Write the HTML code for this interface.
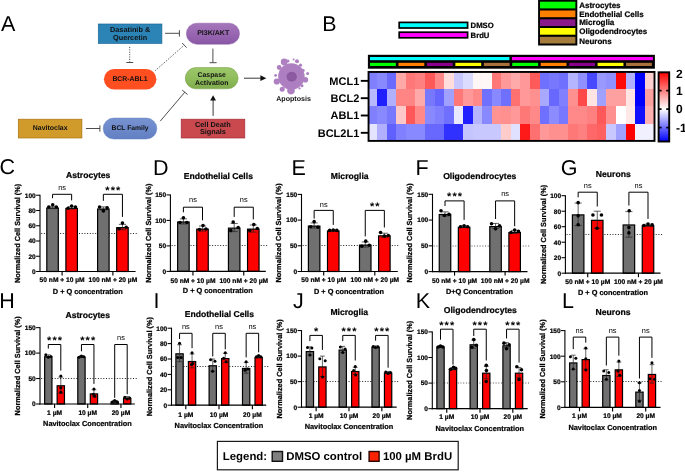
<!DOCTYPE html>
<html lang="en"><head><meta charset="utf-8"><title>Figure</title>
<style>html,body{margin:0;padding:0;background:#fff}svg{display:block}text{font-family:"Liberation Sans", Arial, sans-serif;text-rendering:geometricPrecision}text.b{stroke:#000;stroke-width:0.22px;paint-order:stroke}</style></head><body>
<svg width="685" height="472" viewBox="0 0 685 472">
<defs>
<linearGradient id="gP" x1="0" y1="0" x2="0" y2="1"><stop offset="0" stop-color="#a476ba"/><stop offset="0.5" stop-color="#9967b2"/><stop offset="1" stop-color="#8957a3"/></linearGradient>
<linearGradient id="gG" x1="0" y1="0" x2="0" y2="1"><stop offset="0" stop-color="#9cc76a"/><stop offset="0.5" stop-color="#90bd5c"/><stop offset="1" stop-color="#80ac4d"/></linearGradient>
<linearGradient id="gB" x1="0" y1="0" x2="0" y2="1"><stop offset="0" stop-color="#7893d0"/><stop offset="0.5" stop-color="#6c89ca"/><stop offset="1" stop-color="#6280c2"/></linearGradient>
<linearGradient id="gC" x1="0" y1="0" x2="0" y2="1"><stop offset="0" stop-color="#ff0000"/><stop offset="0.53" stop-color="#ffffff"/><stop offset="1" stop-color="#0000ff"/></linearGradient>
</defs>
<rect x="0" y="0" width="685" height="472" fill="#fff" />
<text x="1" y="31.4" font-size="21.5" font-weight="normal" text-anchor="start" fill="#000" >A</text>
<rect x="98.3" y="24" width="63.6" height="19.4" fill="#2b83b6" stroke="#1d6a98" stroke-width="0.7" />
<text x="130.1" y="32.3" font-size="7.3" font-weight="bold" text-anchor="middle" fill="#111" >Dasatinib &amp;</text>
<text x="130.1" y="39.5" font-size="7.3" font-weight="bold" text-anchor="middle" fill="#111" >Quercetin</text>
<line x1="165.1" y1="33.3" x2="179.4" y2="33.3" stroke="#3a3a3a" stroke-width="0.9" />
<line x1="179.4" y1="30.2" x2="179.4" y2="36.6" stroke="#3a3a3a" stroke-width="0.9" />
<line x1="129.7" y1="46.9" x2="129.7" y2="62.3" stroke="#3a3a3a" stroke-width="0.9" stroke-dasharray="1.1 1.3"/>
<line x1="126.3" y1="62.5" x2="133.2" y2="62.5" stroke="#3a3a3a" stroke-width="0.9" />
<rect x="103.9" y="68.9" width="52.5" height="20.7" fill="#ff4e20" rx="10.35"/>
<text x="130" y="81.1" font-size="6.9" font-weight="bold" text-anchor="middle" fill="#111" >BCR-ABL1</text>
<line x1="155.3" y1="70.6" x2="184" y2="45.4" stroke="#3a3a3a" stroke-width="0.9" stroke-dasharray="1.1 1.3"/>
<line x1="182.2" y1="43" x2="186.6" y2="47.6" stroke="#3a3a3a" stroke-width="0.9" />
<rect x="186.4" y="23.2" width="53.1" height="21" fill="url(#gP)" stroke="#8a5aa6" stroke-width="0.5" rx="10.5"/>
<text x="213.2" y="35" font-size="7.05" font-weight="bold" text-anchor="middle" fill="#111" >PI3K/AKT</text>
<line x1="212.9" y1="48.6" x2="212.9" y2="62.6" stroke="#3a3a3a" stroke-width="0.9" />
<line x1="209.5" y1="62.7" x2="216.6" y2="62.7" stroke="#3a3a3a" stroke-width="0.9" />
<rect x="185.3" y="67.6" width="52.8" height="21.2" fill="url(#gG)" stroke="#7aa34a" stroke-width="0.6" rx="10.6"/>
<text x="211.7" y="76.6" font-size="6.9" font-weight="bold" text-anchor="middle" fill="#111" >Caspase</text>
<text x="211.7" y="85" font-size="6.9" font-weight="bold" text-anchor="middle" fill="#111" >Activation</text>
<line x1="244" y1="78.2" x2="262" y2="78.2" stroke="#222" stroke-width="0.9" />
<polygon points="266.3,78.2 260.4,75.3 260.4,81.1" fill="#111"/>
<rect x="18.3" y="119.2" width="63.6" height="18.8" fill="#d19b2b" stroke="#a9720f" stroke-width="0.7" />
<text x="50.2" y="130" font-size="6.95" font-weight="bold" text-anchor="middle" fill="#111" >Navitoclax</text>
<line x1="85.9" y1="128.5" x2="99.9" y2="128.5" stroke="#3a3a3a" stroke-width="0.9" />
<line x1="99.9" y1="125.3" x2="99.9" y2="131.7" stroke="#3a3a3a" stroke-width="0.9" />
<rect x="103.2" y="118.1" width="53.6" height="20.9" fill="url(#gB)" stroke="#5f7cc0" stroke-width="0.5" rx="10.45"/>
<text x="130.1" y="130.2" font-size="6.75" font-weight="bold" text-anchor="middle" fill="#111" >BCL Family</text>
<line x1="160.2" y1="121.2" x2="184.8" y2="92.2" stroke="#3a3a3a" stroke-width="0.9" />
<line x1="182.2" y1="90.1" x2="187.6" y2="94.5" stroke="#3a3a3a" stroke-width="0.9" />
<rect x="181.2" y="119.2" width="63.6" height="18.8" fill="#c9494f" stroke="#a42d36" stroke-width="0.7" />
<text x="212.9" y="126.6" font-size="7.3" font-weight="bold" text-anchor="middle" fill="#111" >Cell Death</text>
<text x="212.9" y="133.9" font-size="7.3" font-weight="bold" text-anchor="middle" fill="#111" >Signals</text>
<line x1="213.1" y1="115.9" x2="213.1" y2="99" stroke="#222" stroke-width="0.9" />
<polygon points="213.1,95.2 210.2,100.6 216.0,100.6" fill="#111"/>
<g fill="#ae80c1">
<circle cx="291.4" cy="76.4" r="13.2"/>
<circle cx="284.2" cy="62" r="3.4"/>
<circle cx="279.2" cy="67.5" r="2.4"/>
<circle cx="297" cy="61.2" r="2.0"/>
<circle cx="293.6" cy="59.6" r="1.0"/>
<circle cx="302.9" cy="70.5" r="1.8"/>
<circle cx="307.6" cy="73.6" r="1.5"/>
<circle cx="275.6" cy="75.4" r="1.4"/>
<circle cx="276.8" cy="81.5" r="3.1"/>
<circle cx="282.2" cy="89.2" r="2.5"/>
<circle cx="291" cy="90.6" r="3.8"/>
<circle cx="305.4" cy="79.8" r="2.8"/>
<circle cx="302" cy="85.8" r="1.5"/>
<circle cx="299.5" cy="88.4" r="1.1"/>
<circle cx="300.5" cy="65.2" r="1.6"/>
<circle cx="288.0" cy="61.0" r="1.5"/>
</g>
<circle cx="291.4" cy="76.4" r="10.2" fill="none" stroke="#a576b9" stroke-width="0.4" opacity="0.7"/>
<circle cx="291.4" cy="76.4" r="8" fill="none" stroke="#a576b9" stroke-width="0.4" opacity="0.7"/>
<ellipse cx="291.7" cy="76.7" rx="5.2" ry="5.0" fill="#8b5aa0"/>
<text x="293.6" y="100.9" font-size="7.1" font-weight="bold" text-anchor="middle" fill="#111" >Apoptosis</text>
<text x="322.2" y="31.3" font-size="21.4" font-weight="normal" text-anchor="start" fill="#000" >B</text>
<rect x="399.2" y="22.4" width="68.4" height="5.6" fill="#00ffff" stroke="#000" stroke-width="1.7" />
<rect x="399.2" y="32.2" width="68.4" height="5.6" fill="#ff00ff" stroke="#000" stroke-width="1.7" />
<text class="b" x="470.6" y="27.7" font-size="7.7" font-weight="bold" text-anchor="start" fill="#000" >DMSO</text>
<text class="b" x="470.6" y="37.5" font-size="7.7" font-weight="bold" text-anchor="start" fill="#000" >BrdU</text>
<rect x="538.1" y="-1" width="39.2" height="46.5" fill="#000" />
<rect x="540" y="1.7" width="35.4" height="6.7" fill="#00ff00" />
<rect x="540" y="10.5" width="35.4" height="6.7" fill="#ff8000" />
<rect x="540" y="19.3" width="35.4" height="6.7" fill="#8a1a8a" />
<rect x="540" y="28" width="35.4" height="6.7" fill="#ffff00" />
<rect x="540" y="36.8" width="35.4" height="6.7" fill="#a67c3d" />
<text class="b" x="579.2" y="7.9" font-size="8" font-weight="bold" text-anchor="start" fill="#000" >Astrocytes</text>
<text class="b" x="579.2" y="16.7" font-size="8" font-weight="bold" text-anchor="start" fill="#000" >Endothelial Cells</text>
<text class="b" x="579.2" y="25.4" font-size="8" font-weight="bold" text-anchor="start" fill="#000" >Microglia</text>
<text class="b" x="579.2" y="34.2" font-size="8" font-weight="bold" text-anchor="start" fill="#000" >Oligodendrocytes</text>
<text class="b" x="579.2" y="44.1" font-size="8" font-weight="bold" text-anchor="start" fill="#000" >Neurons</text>
<rect x="367.9" y="54.8" width="287" height="13.9" fill="#000" />
<rect x="370" y="57" width="139.4" height="3.2" fill="#00ffff" />
<rect x="511.9" y="57" width="141" height="3.2" fill="#ff00ff" />
<rect x="370" y="62.8" width="25.85" height="3.2" fill="#00ff00" />
<rect x="398.45" y="62.8" width="25.85" height="3.2" fill="#ff8000" />
<rect x="426.9" y="62.8" width="25.85" height="3.2" fill="#8a008a" />
<rect x="455.35" y="62.8" width="25.85" height="3.2" fill="#ffff00" />
<rect x="483.8" y="62.8" width="25.85" height="3.2" fill="#a8703a" />
<rect x="512.25" y="62.8" width="25.85" height="3.2" fill="#00ff00" />
<rect x="540.69" y="62.8" width="25.85" height="3.2" fill="#ff8000" />
<rect x="569.14" y="62.8" width="25.85" height="3.2" fill="#8a008a" />
<rect x="597.59" y="62.8" width="25.85" height="3.2" fill="#ffff00" />
<rect x="626.04" y="62.8" width="25.85" height="3.2" fill="#a8703a" />
<g shape-rendering="crispEdges">
<rect x="367.65" y="71.55" width="9.85" height="17.62" fill="#8080ff" />
<rect x="377.2" y="71.55" width="9.85" height="17.62" fill="#8888ff" />
<rect x="386.75" y="71.55" width="9.85" height="17.62" fill="#6a6aff" />
<rect x="396.3" y="71.55" width="9.85" height="17.62" fill="#ffa8a8" />
<rect x="405.85" y="71.55" width="9.85" height="17.62" fill="#ff7878" />
<rect x="415.4" y="71.55" width="9.85" height="17.62" fill="#ff8080" />
<rect x="424.95" y="71.55" width="9.85" height="17.62" fill="#ff5858" />
<rect x="434.5" y="71.55" width="9.85" height="17.62" fill="#ff8888" />
<rect x="444.05" y="71.55" width="9.85" height="17.62" fill="#ffdddd" />
<rect x="453.6" y="71.55" width="9.85" height="17.62" fill="#c8c8ff" />
<rect x="463.15" y="71.55" width="9.85" height="17.62" fill="#dcdcff" />
<rect x="472.7" y="71.55" width="9.85" height="17.62" fill="#fff6f6" />
<rect x="482.25" y="71.55" width="9.85" height="17.62" fill="#fff8f6" />
<rect x="491.8" y="71.55" width="9.85" height="17.62" fill="#ff7777" />
<rect x="501.35" y="71.55" width="9.85" height="17.62" fill="#ff9999" />
<rect x="510.9" y="71.55" width="9.85" height="17.62" fill="#ffaaaa" />
<rect x="520.45" y="71.55" width="9.85" height="17.62" fill="#ff9999" />
<rect x="530" y="71.55" width="9.85" height="17.62" fill="#ff5a5a" />
<rect x="539.55" y="71.55" width="9.85" height="17.62" fill="#7070ff" />
<rect x="549.1" y="71.55" width="9.85" height="17.62" fill="#7878ff" />
<rect x="558.65" y="71.55" width="9.85" height="17.62" fill="#7070ff" />
<rect x="568.2" y="71.55" width="9.85" height="17.62" fill="#b4b4ff" />
<rect x="577.75" y="71.55" width="9.85" height="17.62" fill="#9090ff" />
<rect x="587.3" y="71.55" width="9.85" height="17.62" fill="#4848ff" />
<rect x="596.85" y="71.55" width="9.85" height="17.62" fill="#9898ff" />
<rect x="606.4" y="71.55" width="9.85" height="17.62" fill="#9090ff" />
<rect x="615.95" y="71.55" width="9.85" height="17.62" fill="#ff0808" />
<rect x="625.5" y="71.55" width="9.85" height="17.62" fill="#b0b0ff" />
<rect x="635.05" y="71.55" width="9.85" height="17.62" fill="#0000ff" />
<rect x="644.6" y="71.55" width="9.85" height="17.62" fill="#ffd0d0" />
<rect x="367.65" y="88.87" width="9.85" height="17.62" fill="#b8b8ff" />
<rect x="377.2" y="88.87" width="9.85" height="17.62" fill="#2020ff" />
<rect x="386.75" y="88.87" width="9.85" height="17.62" fill="#b0b0ff" />
<rect x="396.3" y="88.87" width="9.85" height="17.62" fill="#ff8484" />
<rect x="405.85" y="88.87" width="9.85" height="17.62" fill="#ff8484" />
<rect x="415.4" y="88.87" width="9.85" height="17.62" fill="#ffaaaa" />
<rect x="424.95" y="88.87" width="9.85" height="17.62" fill="#7878ff" />
<rect x="434.5" y="88.87" width="9.85" height="17.62" fill="#6666ff" />
<rect x="444.05" y="88.87" width="9.85" height="17.62" fill="#a0a0ff" />
<rect x="453.6" y="88.87" width="9.85" height="17.62" fill="#ff7777" />
<rect x="463.15" y="88.87" width="9.85" height="17.62" fill="#ff9999" />
<rect x="472.7" y="88.87" width="9.85" height="17.62" fill="#ff8888" />
<rect x="482.25" y="88.87" width="9.85" height="17.62" fill="#7070ff" />
<rect x="491.8" y="88.87" width="9.85" height="17.62" fill="#8888ff" />
<rect x="501.35" y="88.87" width="9.85" height="17.62" fill="#7070ff" />
<rect x="510.9" y="88.87" width="9.85" height="17.62" fill="#ff7070" />
<rect x="520.45" y="88.87" width="9.85" height="17.62" fill="#ff9999" />
<rect x="530" y="88.87" width="9.85" height="17.62" fill="#ff9090" />
<rect x="539.55" y="88.87" width="9.85" height="17.62" fill="#a8a8ff" />
<rect x="549.1" y="88.87" width="9.85" height="17.62" fill="#6868ff" />
<rect x="558.65" y="88.87" width="9.85" height="17.62" fill="#8080ff" />
<rect x="568.2" y="88.87" width="9.85" height="17.62" fill="#ff9090" />
<rect x="577.75" y="88.87" width="9.85" height="17.62" fill="#ff4848" />
<rect x="587.3" y="88.87" width="9.85" height="17.62" fill="#ffe4e4" />
<rect x="596.85" y="88.87" width="9.85" height="17.62" fill="#a0a0ff" />
<rect x="606.4" y="88.87" width="9.85" height="17.62" fill="#ffa0a0" />
<rect x="615.95" y="88.87" width="9.85" height="17.62" fill="#ffa0a0" />
<rect x="625.5" y="88.87" width="9.85" height="17.62" fill="#ffe4e4" />
<rect x="635.05" y="88.87" width="9.85" height="17.62" fill="#0000ff" />
<rect x="644.6" y="88.87" width="9.85" height="17.62" fill="#ffa0a0" />
<rect x="367.65" y="106.19" width="9.85" height="17.62" fill="#8080ff" />
<rect x="377.2" y="106.19" width="9.85" height="17.62" fill="#8888ff" />
<rect x="386.75" y="106.19" width="9.85" height="17.62" fill="#7878ff" />
<rect x="396.3" y="106.19" width="9.85" height="17.62" fill="#ffc8c8" />
<rect x="405.85" y="106.19" width="9.85" height="17.62" fill="#ff5858" />
<rect x="415.4" y="106.19" width="9.85" height="17.62" fill="#ff8888" />
<rect x="424.95" y="106.19" width="9.85" height="17.62" fill="#8888ff" />
<rect x="434.5" y="106.19" width="9.85" height="17.62" fill="#8080ff" />
<rect x="444.05" y="106.19" width="9.85" height="17.62" fill="#7070ff" />
<rect x="453.6" y="106.19" width="9.85" height="17.62" fill="#e8e8ff" />
<rect x="463.15" y="106.19" width="9.85" height="17.62" fill="#2020ff" />
<rect x="472.7" y="106.19" width="9.85" height="17.62" fill="#b4b4ff" />
<rect x="482.25" y="106.19" width="9.85" height="17.62" fill="#8888ff" />
<rect x="491.8" y="106.19" width="9.85" height="17.62" fill="#ff9292" />
<rect x="501.35" y="106.19" width="9.85" height="17.62" fill="#ff9090" />
<rect x="510.9" y="106.19" width="9.85" height="17.62" fill="#ff9898" />
<rect x="520.45" y="106.19" width="9.85" height="17.62" fill="#ff7878" />
<rect x="530" y="106.19" width="9.85" height="17.62" fill="#ff8888" />
<rect x="539.55" y="106.19" width="9.85" height="17.62" fill="#7070ff" />
<rect x="549.1" y="106.19" width="9.85" height="17.62" fill="#8c8cff" />
<rect x="558.65" y="106.19" width="9.85" height="17.62" fill="#7878ff" />
<rect x="568.2" y="106.19" width="9.85" height="17.62" fill="#ff8888" />
<rect x="577.75" y="106.19" width="9.85" height="17.62" fill="#ff8888" />
<rect x="587.3" y="106.19" width="9.85" height="17.62" fill="#ff8080" />
<rect x="596.85" y="106.19" width="9.85" height="17.62" fill="#ff5858" />
<rect x="606.4" y="106.19" width="9.85" height="17.62" fill="#ff9090" />
<rect x="615.95" y="106.19" width="9.85" height="17.62" fill="#ffffff" />
<rect x="625.5" y="106.19" width="9.85" height="17.62" fill="#ffe8e8" />
<rect x="635.05" y="106.19" width="9.85" height="17.62" fill="#1010ff" />
<rect x="644.6" y="106.19" width="9.85" height="17.62" fill="#ffb0b0" />
<rect x="367.65" y="123.51" width="9.85" height="17.62" fill="#e4e4ff" />
<rect x="377.2" y="123.51" width="9.85" height="17.62" fill="#b0b0ff" />
<rect x="386.75" y="123.51" width="9.85" height="17.62" fill="#6060ff" />
<rect x="396.3" y="123.51" width="9.85" height="17.62" fill="#8080ff" />
<rect x="405.85" y="123.51" width="9.85" height="17.62" fill="#8888ff" />
<rect x="415.4" y="123.51" width="9.85" height="17.62" fill="#8888ff" />
<rect x="424.95" y="123.51" width="9.85" height="17.62" fill="#6868ff" />
<rect x="434.5" y="123.51" width="9.85" height="17.62" fill="#6868ff" />
<rect x="444.05" y="123.51" width="9.85" height="17.62" fill="#3030ff" />
<rect x="453.6" y="123.51" width="9.85" height="17.62" fill="#3030ff" />
<rect x="463.15" y="123.51" width="9.85" height="17.62" fill="#c4c4ff" />
<rect x="472.7" y="123.51" width="9.85" height="17.62" fill="#c8c8ff" />
<rect x="482.25" y="123.51" width="9.85" height="17.62" fill="#c8c8ff" />
<rect x="491.8" y="123.51" width="9.85" height="17.62" fill="#c8c8ff" />
<rect x="501.35" y="123.51" width="9.85" height="17.62" fill="#ffcccc" />
<rect x="510.9" y="123.51" width="9.85" height="17.62" fill="#e0e0ff" />
<rect x="520.45" y="123.51" width="9.85" height="17.62" fill="#ff1a1a" />
<rect x="530" y="123.51" width="9.85" height="17.62" fill="#ff7070" />
<rect x="539.55" y="123.51" width="9.85" height="17.62" fill="#ff9898" />
<rect x="549.1" y="123.51" width="9.85" height="17.62" fill="#ff9090" />
<rect x="558.65" y="123.51" width="9.85" height="17.62" fill="#ff9090" />
<rect x="568.2" y="123.51" width="9.85" height="17.62" fill="#ff7878" />
<rect x="577.75" y="123.51" width="9.85" height="17.62" fill="#ff8080" />
<rect x="587.3" y="123.51" width="9.85" height="17.62" fill="#ff6868" />
<rect x="596.85" y="123.51" width="9.85" height="17.62" fill="#ff6060" />
<rect x="606.4" y="123.51" width="9.85" height="17.62" fill="#c8c8ff" />
<rect x="615.95" y="123.51" width="9.85" height="17.62" fill="#a0a0ff" />
<rect x="625.5" y="123.51" width="9.85" height="17.62" fill="#ff0000" />
<rect x="635.05" y="123.51" width="9.85" height="17.62" fill="#f0f0ff" />
<rect x="644.6" y="123.51" width="9.85" height="17.62" fill="#f0f0ff" />
</g>
<rect x="368.55" y="71.95" width="285.95" height="68.95" fill="none" stroke="#000" stroke-width="1.9" />
<line x1="360.8" y1="80.86" x2="368" y2="80.86" stroke="#000" stroke-width="1.9" />
<text x="359.3" y="84.81" font-size="11" font-weight="bold" text-anchor="end" fill="#000" >MCL1</text>
<line x1="360.8" y1="98.18" x2="368" y2="98.18" stroke="#000" stroke-width="1.9" />
<text x="359.3" y="102.13" font-size="11" font-weight="bold" text-anchor="end" fill="#000" >BCL2</text>
<line x1="360.8" y1="115.5" x2="368" y2="115.5" stroke="#000" stroke-width="1.9" />
<text x="359.3" y="119.45" font-size="11" font-weight="bold" text-anchor="end" fill="#000" >ABL1</text>
<line x1="360.8" y1="132.82" x2="368" y2="132.82" stroke="#000" stroke-width="1.9" />
<text x="359.3" y="136.77" font-size="11" font-weight="bold" text-anchor="end" fill="#000" >BCL2L1</text>
<rect x="658.6" y="72.3" width="10.6" height="69.2" fill="url(#gC)" stroke="#000" stroke-width="1.9"/>
<text x="676" y="77.6" font-size="12" font-weight="bold" text-anchor="start" fill="#000" >2</text>
<line x1="658.6" y1="90.6" x2="661.6" y2="90.6" stroke="#000" stroke-width="1.7" />
<line x1="666.2" y1="90.6" x2="669.2" y2="90.6" stroke="#000" stroke-width="1.7" />
<text x="676" y="94.5" font-size="12" font-weight="bold" text-anchor="start" fill="#000" >1</text>
<line x1="658.6" y1="109.1" x2="661.6" y2="109.1" stroke="#000" stroke-width="1.7" />
<line x1="666.2" y1="109.1" x2="669.2" y2="109.1" stroke="#000" stroke-width="1.7" />
<text x="676" y="113" font-size="12" font-weight="bold" text-anchor="start" fill="#000" >0</text>
<line x1="658.6" y1="127.6" x2="661.6" y2="127.6" stroke="#000" stroke-width="1.7" />
<line x1="666.2" y1="127.6" x2="669.2" y2="127.6" stroke="#000" stroke-width="1.7" />
<text x="676" y="131.5" font-size="12" font-weight="bold" text-anchor="start" fill="#000" >-1</text>
<text x="-0.6" y="174.2" font-size="21.5" font-weight="normal" text-anchor="start" fill="#000" >C</text>
<text class="b" x="88.15" y="178.3" font-size="8.6" font-weight="bold" text-anchor="middle" fill="#000" >Astrocytes</text>
<line x1="41.2" y1="233.5" x2="137.6" y2="233.5" stroke="#222" stroke-width="1" stroke-dasharray="1 1.7"/>
<rect x="46.8" y="208.05" width="11.5" height="63.45" fill="#707070" stroke="#000" stroke-width="1.2" />
<line x1="52.55" y1="206.31" x2="52.55" y2="208.59" stroke="#222" stroke-width="0.7" />
<line x1="48.99" y1="206.31" x2="56.11" y2="206.31" stroke="#222" stroke-width="0.7" />
<line x1="48.99" y1="208.59" x2="56.11" y2="208.59" stroke="#222" stroke-width="0.7" />
<circle cx="48.75" cy="207.07" r="1.8" fill="#000"/>
<circle cx="52.75" cy="204.78" r="1.8" fill="#000"/>
<circle cx="56.35" cy="207.07" r="1.8" fill="#000"/>
<rect x="65.9" y="208.43" width="11.5" height="63.07" fill="#ff0000" stroke="#000" stroke-width="1.2" />
<line x1="71.65" y1="206.69" x2="71.65" y2="208.97" stroke="#222" stroke-width="0.7" />
<line x1="68.09" y1="206.69" x2="75.21" y2="206.69" stroke="#222" stroke-width="0.7" />
<line x1="68.09" y1="208.97" x2="75.21" y2="208.97" stroke="#222" stroke-width="0.7" />
<circle cx="68.05" cy="208.21" r="1.8" fill="#000"/>
<circle cx="71.65" cy="205.93" r="1.8" fill="#000"/>
<circle cx="75.45" cy="207.07" r="1.8" fill="#000"/>
<rect x="97.6" y="209.04" width="11.5" height="62.46" fill="#707070" stroke="#000" stroke-width="1.2" />
<line x1="103.35" y1="206.92" x2="103.35" y2="209.97" stroke="#222" stroke-width="0.7" />
<line x1="99.79" y1="206.92" x2="106.91" y2="206.92" stroke="#222" stroke-width="0.7" />
<line x1="99.79" y1="209.97" x2="106.91" y2="209.97" stroke="#222" stroke-width="0.7" />
<circle cx="99.55" cy="207.07" r="1.8" fill="#000"/>
<circle cx="103.35" cy="210.88" r="1.8" fill="#000"/>
<circle cx="107.15" cy="207.83" r="1.8" fill="#000"/>
<rect x="116.7" y="227.65" width="11.5" height="43.85" fill="#ff0000" stroke="#000" stroke-width="1.2" />
<line x1="122.45" y1="224.38" x2="122.45" y2="229.72" stroke="#222" stroke-width="0.7" />
<line x1="118.89" y1="224.38" x2="126.01" y2="224.38" stroke="#222" stroke-width="0.7" />
<line x1="118.89" y1="229.72" x2="126.01" y2="229.72" stroke="#222" stroke-width="0.7" />
<circle cx="119.05" cy="228.8" r="1.8" fill="#000"/>
<circle cx="122.45" cy="223.08" r="1.8" fill="#000"/>
<circle cx="126.25" cy="227.28" r="1.8" fill="#000"/>
<line x1="40" y1="194.75" x2="40" y2="272.05" stroke="#000" stroke-width="1.1" />
<line x1="39.45" y1="271.5" x2="135.6" y2="271.5" stroke="#000" stroke-width="1.2" />
<line x1="36.1" y1="271.5" x2="40" y2="271.5" stroke="#000" stroke-width="1.05" />
<text class="b" x="35.7" y="273.85" font-size="6.55" font-weight="bold" text-anchor="end" fill="#000" >0</text>
<line x1="36.1" y1="256.25" x2="40" y2="256.25" stroke="#000" stroke-width="1.05" />
<text class="b" x="35.7" y="258.6" font-size="6.55" font-weight="bold" text-anchor="end" fill="#000" >20</text>
<line x1="36.1" y1="241" x2="40" y2="241" stroke="#000" stroke-width="1.05" />
<text class="b" x="35.7" y="243.35" font-size="6.55" font-weight="bold" text-anchor="end" fill="#000" >40</text>
<line x1="36.1" y1="225.75" x2="40" y2="225.75" stroke="#000" stroke-width="1.05" />
<text class="b" x="35.7" y="228.1" font-size="6.55" font-weight="bold" text-anchor="end" fill="#000" >60</text>
<line x1="36.1" y1="210.5" x2="40" y2="210.5" stroke="#000" stroke-width="1.05" />
<text class="b" x="35.7" y="212.85" font-size="6.55" font-weight="bold" text-anchor="end" fill="#000" >80</text>
<line x1="36.1" y1="195.25" x2="40" y2="195.25" stroke="#000" stroke-width="1.05" />
<text class="b" x="35.7" y="197.6" font-size="6.55" font-weight="bold" text-anchor="end" fill="#000" >100</text>
<line x1="62.1" y1="271.5" x2="62.1" y2="275.5" stroke="#000" stroke-width="1.15" />
<line x1="112.9" y1="271.5" x2="112.9" y2="275.5" stroke="#000" stroke-width="1.15" />
<text class="b" x="62.1" y="282.4" font-size="6.65" font-weight="bold" text-anchor="middle" fill="#000" >50 nM + 10 µM</text>
<text class="b" x="112.9" y="282.4" font-size="6.65" font-weight="bold" text-anchor="middle" fill="#000" >100 nM + 20 µM</text>
<text class="b" x="87.8" y="294" font-size="7.35" font-weight="bold" text-anchor="middle" fill="#000" >D + Q concentration</text>
<text class="b" transform="translate(20.1 233.38) rotate(-90)" font-size="7.35" font-weight="bold" text-anchor="middle">Normalized Cell Survival (%)</text>
<polyline points="52.55,198.2 52.55,194.3 71.65,194.3 71.65,200.4" fill="none" stroke="#000" stroke-width="1.0"/>
<text x="62.1" y="189.7" font-size="7.4" font-weight="normal" text-anchor="middle" fill="#000" >ns</text>
<polyline points="103.35,200.8 103.35,194.3 122.45,194.3 122.45,216.9" fill="none" stroke="#000" stroke-width="1.0"/>
<text x="113.45" y="194.1" font-size="11" font-weight="bold" text-anchor="middle" fill="#000" letter-spacing="1.1">***</text>
<text x="153" y="174.5" font-size="21.5" font-weight="normal" text-anchor="start" fill="#000" >D</text>
<text class="b" x="218.3" y="179.1" font-size="8.6" font-weight="bold" text-anchor="middle" fill="#000" >Endothelial Cells</text>
<line x1="171.6" y1="245.5" x2="267.8" y2="245.5" stroke="#222" stroke-width="1" stroke-dasharray="1 1.7"/>
<rect x="177.65" y="222.02" width="11.5" height="49.38" fill="#707070" stroke="#000" stroke-width="1.2" />
<line x1="183.4" y1="218.87" x2="183.4" y2="223.97" stroke="#222" stroke-width="0.7" />
<line x1="179.84" y1="218.87" x2="186.96" y2="218.87" stroke="#222" stroke-width="0.7" />
<line x1="179.84" y1="223.97" x2="186.96" y2="223.97" stroke="#222" stroke-width="0.7" />
<circle cx="179.9" cy="222.44" r="1.8" fill="#000"/>
<circle cx="183.4" cy="217.85" r="1.8" fill="#000"/>
<circle cx="186.9" cy="222.44" r="1.8" fill="#000"/>
<rect x="196.75" y="229.16" width="11.5" height="42.24" fill="#ff0000" stroke="#000" stroke-width="1.2" />
<line x1="202.5" y1="226.01" x2="202.5" y2="231.11" stroke="#222" stroke-width="0.7" />
<line x1="198.94" y1="226.01" x2="206.06" y2="226.01" stroke="#222" stroke-width="0.7" />
<line x1="198.94" y1="231.11" x2="206.06" y2="231.11" stroke="#222" stroke-width="0.7" />
<circle cx="199.5" cy="229.58" r="1.8" fill="#000"/>
<circle cx="203" cy="225.5" r="1.8" fill="#000"/>
<circle cx="206" cy="229.07" r="1.8" fill="#000"/>
<rect x="228.45" y="228.14" width="11.5" height="43.26" fill="#707070" stroke="#000" stroke-width="1.2" />
<line x1="234.2" y1="223.46" x2="234.2" y2="231.62" stroke="#222" stroke-width="0.7" />
<line x1="230.64" y1="223.46" x2="237.76" y2="223.46" stroke="#222" stroke-width="0.7" />
<line x1="230.64" y1="231.62" x2="237.76" y2="231.62" stroke="#222" stroke-width="0.7" />
<circle cx="230.7" cy="230.6" r="1.8" fill="#000"/>
<circle cx="233.2" cy="221.93" r="1.8" fill="#000"/>
<circle cx="238.2" cy="227.54" r="1.8" fill="#000"/>
<rect x="247.55" y="229.16" width="11.5" height="42.24" fill="#ff0000" stroke="#000" stroke-width="1.2" />
<line x1="253.3" y1="224.99" x2="253.3" y2="232.13" stroke="#222" stroke-width="0.7" />
<line x1="249.74" y1="224.99" x2="256.86" y2="224.99" stroke="#222" stroke-width="0.7" />
<line x1="249.74" y1="232.13" x2="256.86" y2="232.13" stroke="#222" stroke-width="0.7" />
<circle cx="249.8" cy="230.6" r="1.8" fill="#000"/>
<circle cx="253.8" cy="224.48" r="1.8" fill="#000"/>
<circle cx="257.3" cy="228.56" r="1.8" fill="#000"/>
<line x1="170.4" y1="194.4" x2="170.4" y2="271.95" stroke="#000" stroke-width="1.1" />
<line x1="169.85" y1="271.4" x2="265.8" y2="271.4" stroke="#000" stroke-width="1.2" />
<line x1="166.5" y1="271.4" x2="170.4" y2="271.4" stroke="#000" stroke-width="1.05" />
<text class="b" x="166.1" y="273.75" font-size="6.55" font-weight="bold" text-anchor="end" fill="#000" >0</text>
<line x1="166.5" y1="245.9" x2="170.4" y2="245.9" stroke="#000" stroke-width="1.05" />
<text class="b" x="166.1" y="248.25" font-size="6.55" font-weight="bold" text-anchor="end" fill="#000" >50</text>
<line x1="166.5" y1="220.4" x2="170.4" y2="220.4" stroke="#000" stroke-width="1.05" />
<text class="b" x="166.1" y="222.75" font-size="6.55" font-weight="bold" text-anchor="end" fill="#000" >100</text>
<line x1="166.5" y1="194.9" x2="170.4" y2="194.9" stroke="#000" stroke-width="1.05" />
<text class="b" x="166.1" y="197.25" font-size="6.55" font-weight="bold" text-anchor="end" fill="#000" >150</text>
<line x1="192.95" y1="271.4" x2="192.95" y2="275.4" stroke="#000" stroke-width="1.15" />
<line x1="243.75" y1="271.4" x2="243.75" y2="275.4" stroke="#000" stroke-width="1.15" />
<text class="b" x="192.95" y="282.5" font-size="6.65" font-weight="bold" text-anchor="middle" fill="#000" >50 nM + 10 µM</text>
<text class="b" x="243.75" y="282.5" font-size="6.65" font-weight="bold" text-anchor="middle" fill="#000" >100 nM + 20 µM</text>
<text class="b" x="217.8" y="293.3" font-size="7.35" font-weight="bold" text-anchor="middle" fill="#000" >D + Q concentration</text>
<text class="b" transform="translate(150.5 233.15) rotate(-90)" font-size="7.35" font-weight="bold" text-anchor="middle">Normalized Cell Survival (%)</text>
<polyline points="183.4,212.3 183.4,207.2 202.5,207.2 202.5,220.3" fill="none" stroke="#000" stroke-width="1.0"/>
<text x="192.95" y="202.4" font-size="7.4" font-weight="normal" text-anchor="middle" fill="#000" >ns</text>
<polyline points="234.2,216.9 234.2,207.2 253.3,207.2 253.3,219.4" fill="none" stroke="#000" stroke-width="1.0"/>
<text x="243.75" y="202.4" font-size="7.4" font-weight="normal" text-anchor="middle" fill="#000" >ns</text>
<text x="291.5" y="174.5" font-size="21.5" font-weight="normal" text-anchor="start" fill="#000" >E</text>
<text class="b" x="349.7" y="178.7" font-size="8.6" font-weight="bold" text-anchor="middle" fill="#000" >Microglia</text>
<line x1="302.7" y1="245.5" x2="399.8" y2="245.5" stroke="#222" stroke-width="1" stroke-dasharray="1 1.7"/>
<rect x="308.4" y="226.1" width="11.5" height="45.4" fill="#707070" stroke="#000" stroke-width="1.2" />
<line x1="314.15" y1="222.93" x2="314.15" y2="228.07" stroke="#222" stroke-width="0.7" />
<line x1="310.59" y1="222.93" x2="317.71" y2="222.93" stroke="#222" stroke-width="0.7" />
<line x1="310.59" y1="228.07" x2="317.71" y2="228.07" stroke="#222" stroke-width="0.7" />
<circle cx="310.65" cy="226.78" r="1.8" fill="#000"/>
<circle cx="314.15" cy="221.64" r="1.8" fill="#000"/>
<circle cx="317.95" cy="227.3" r="1.8" fill="#000"/>
<rect x="327.5" y="230.98" width="11.5" height="40.52" fill="#ff0000" stroke="#000" stroke-width="1.2" />
<line x1="333.25" y1="229.87" x2="333.25" y2="230.89" stroke="#222" stroke-width="0.7" />
<line x1="329.69" y1="229.87" x2="336.81" y2="229.87" stroke="#222" stroke-width="0.7" />
<line x1="329.69" y1="230.89" x2="336.81" y2="230.89" stroke="#222" stroke-width="0.7" />
<circle cx="329.65" cy="230.38" r="1.8" fill="#000"/>
<circle cx="333.25" cy="230.12" r="1.8" fill="#000"/>
<circle cx="336.85" cy="230.38" r="1.8" fill="#000"/>
<rect x="359.5" y="245.11" width="11.5" height="26.39" fill="#707070" stroke="#000" stroke-width="1.2" />
<line x1="365.25" y1="241.94" x2="365.25" y2="247.09" stroke="#222" stroke-width="0.7" />
<line x1="361.69" y1="241.94" x2="368.81" y2="241.94" stroke="#222" stroke-width="0.7" />
<line x1="361.69" y1="247.09" x2="368.81" y2="247.09" stroke="#222" stroke-width="0.7" />
<circle cx="361.75" cy="246.31" r="1.8" fill="#000"/>
<circle cx="365.75" cy="241.17" r="1.8" fill="#000"/>
<circle cx="369.25" cy="245.29" r="1.8" fill="#000"/>
<rect x="378.6" y="235.86" width="11.5" height="35.64" fill="#ff0000" stroke="#000" stroke-width="1.2" />
<line x1="384.35" y1="233.21" x2="384.35" y2="237.32" stroke="#222" stroke-width="0.7" />
<line x1="380.79" y1="233.21" x2="387.91" y2="233.21" stroke="#222" stroke-width="0.7" />
<line x1="380.79" y1="237.32" x2="387.91" y2="237.32" stroke="#222" stroke-width="0.7" />
<circle cx="380.55" cy="232.44" r="1.8" fill="#000"/>
<circle cx="384.35" cy="236.03" r="1.8" fill="#000"/>
<circle cx="388.35" cy="235.52" r="1.8" fill="#000"/>
<line x1="301.5" y1="193.9" x2="301.5" y2="272.05" stroke="#000" stroke-width="1.1" />
<line x1="300.95" y1="271.5" x2="397.8" y2="271.5" stroke="#000" stroke-width="1.2" />
<line x1="297.6" y1="271.5" x2="301.5" y2="271.5" stroke="#000" stroke-width="1.05" />
<text class="b" x="297.2" y="273.85" font-size="6.55" font-weight="bold" text-anchor="end" fill="#000" >0</text>
<line x1="297.6" y1="245.8" x2="301.5" y2="245.8" stroke="#000" stroke-width="1.05" />
<text class="b" x="297.2" y="248.15" font-size="6.55" font-weight="bold" text-anchor="end" fill="#000" >50</text>
<line x1="297.6" y1="220.1" x2="301.5" y2="220.1" stroke="#000" stroke-width="1.05" />
<text class="b" x="297.2" y="222.45" font-size="6.55" font-weight="bold" text-anchor="end" fill="#000" >100</text>
<line x1="297.6" y1="194.4" x2="301.5" y2="194.4" stroke="#000" stroke-width="1.05" />
<text class="b" x="297.2" y="196.75" font-size="6.55" font-weight="bold" text-anchor="end" fill="#000" >150</text>
<line x1="323.7" y1="271.5" x2="323.7" y2="275.5" stroke="#000" stroke-width="1.15" />
<line x1="374.8" y1="271.5" x2="374.8" y2="275.5" stroke="#000" stroke-width="1.15" />
<text class="b" x="323.7" y="282.2" font-size="6.65" font-weight="bold" text-anchor="middle" fill="#000" >50 nM + 10 µM</text>
<text class="b" x="374.8" y="282.2" font-size="6.65" font-weight="bold" text-anchor="middle" fill="#000" >100 nM + 20 µM</text>
<text class="b" x="349" y="293.8" font-size="7.35" font-weight="bold" text-anchor="middle" fill="#000" >D + Q concentration</text>
<text class="b" transform="translate(281.4 232.95) rotate(-90)" font-size="7.35" font-weight="bold" text-anchor="middle">Normalized Cell Survival (%)</text>
<polyline points="314.15,218.6 314.15,210.4 333.25,210.4 333.25,224.9" fill="none" stroke="#000" stroke-width="1.0"/>
<text x="323.7" y="206.6" font-size="7.4" font-weight="normal" text-anchor="middle" fill="#000" >ns</text>
<polyline points="365.25,236.4 365.25,210.4 384.35,210.4 384.35,227.5" fill="none" stroke="#000" stroke-width="1.0"/>
<text x="375.35" y="210.4" font-size="11" font-weight="bold" text-anchor="middle" fill="#000" letter-spacing="1.1">**</text>
<text x="415.6" y="174.8" font-size="21.5" font-weight="normal" text-anchor="start" fill="#000" >F</text>
<text class="b" x="479.7" y="179.2" font-size="8.6" font-weight="bold" text-anchor="middle" fill="#000" >Oligodendrocytes</text>
<line x1="433.7" y1="246" x2="529.5" y2="246" stroke="#555" stroke-width="1" stroke-dasharray="1 1.7"/>
<rect x="439.25" y="214.49" width="11.5" height="57.11" fill="#707070" stroke="#000" stroke-width="1.2" />
<line x1="445" y1="211.83" x2="445" y2="215.95" stroke="#222" stroke-width="0.7" />
<line x1="441.44" y1="211.83" x2="448.56" y2="211.83" stroke="#222" stroke-width="0.7" />
<line x1="441.44" y1="215.95" x2="448.56" y2="215.95" stroke="#222" stroke-width="0.7" />
<circle cx="441" cy="210.79" r="1.8" fill="#000"/>
<circle cx="444.5" cy="215.43" r="1.8" fill="#000"/>
<circle cx="449" cy="214.4" r="1.8" fill="#000"/>
<rect x="458.35" y="227.37" width="11.5" height="44.23" fill="#ff0000" stroke="#000" stroke-width="1.2" />
<line x1="464.1" y1="226" x2="464.1" y2="227.54" stroke="#222" stroke-width="0.7" />
<line x1="460.54" y1="226" x2="467.66" y2="226" stroke="#222" stroke-width="0.7" />
<line x1="460.54" y1="227.54" x2="467.66" y2="227.54" stroke="#222" stroke-width="0.7" />
<circle cx="460.5" cy="226.77" r="1.8" fill="#000"/>
<circle cx="464.1" cy="225.74" r="1.8" fill="#000"/>
<circle cx="467.7" cy="226.77" r="1.8" fill="#000"/>
<rect x="489.8" y="226.6" width="11.5" height="45" fill="#707070" stroke="#000" stroke-width="1.2" />
<line x1="495.55" y1="223.42" x2="495.55" y2="228.57" stroke="#222" stroke-width="0.7" />
<line x1="491.99" y1="223.42" x2="499.11" y2="223.42" stroke="#222" stroke-width="0.7" />
<line x1="491.99" y1="228.57" x2="499.11" y2="228.57" stroke="#222" stroke-width="0.7" />
<circle cx="491.55" cy="223.68" r="1.8" fill="#000"/>
<circle cx="495.55" cy="228.83" r="1.8" fill="#000"/>
<circle cx="499.55" cy="225.74" r="1.8" fill="#000"/>
<rect x="508.9" y="232.52" width="11.5" height="39.08" fill="#ff0000" stroke="#000" stroke-width="1.2" />
<line x1="514.65" y1="230.38" x2="514.65" y2="233.47" stroke="#222" stroke-width="0.7" />
<line x1="511.09" y1="230.38" x2="518.21" y2="230.38" stroke="#222" stroke-width="0.7" />
<line x1="511.09" y1="233.47" x2="518.21" y2="233.47" stroke="#222" stroke-width="0.7" />
<circle cx="511.05" cy="232.44" r="1.8" fill="#000"/>
<circle cx="514.65" cy="230.12" r="1.8" fill="#000"/>
<circle cx="518.45" cy="231.41" r="1.8" fill="#000"/>
<line x1="432.5" y1="193.81" x2="432.5" y2="272.15" stroke="#000" stroke-width="1.1" />
<line x1="431.95" y1="271.6" x2="527.5" y2="271.6" stroke="#000" stroke-width="1.2" />
<line x1="428.6" y1="271.6" x2="432.5" y2="271.6" stroke="#000" stroke-width="1.05" />
<text class="b" x="428.2" y="273.95" font-size="6.55" font-weight="bold" text-anchor="end" fill="#000" >0</text>
<line x1="428.6" y1="245.84" x2="432.5" y2="245.84" stroke="#000" stroke-width="1.05" />
<text class="b" x="428.2" y="248.19" font-size="6.55" font-weight="bold" text-anchor="end" fill="#000" >50</text>
<line x1="428.6" y1="220.07" x2="432.5" y2="220.07" stroke="#000" stroke-width="1.05" />
<text class="b" x="428.2" y="222.42" font-size="6.55" font-weight="bold" text-anchor="end" fill="#000" >100</text>
<line x1="428.6" y1="194.31" x2="432.5" y2="194.31" stroke="#000" stroke-width="1.05" />
<text class="b" x="428.2" y="196.66" font-size="6.55" font-weight="bold" text-anchor="end" fill="#000" >150</text>
<line x1="454.55" y1="271.6" x2="454.55" y2="275.6" stroke="#000" stroke-width="1.15" />
<line x1="505.1" y1="271.6" x2="505.1" y2="275.6" stroke="#000" stroke-width="1.15" />
<text class="b" x="454.55" y="282.5" font-size="6.65" font-weight="bold" text-anchor="middle" fill="#000" >50 nM + 10 µM</text>
<text class="b" x="505.1" y="282.5" font-size="6.65" font-weight="bold" text-anchor="middle" fill="#000" >100 nM + 20 µM</text>
<text class="b" x="479.5" y="293.6" font-size="7.35" font-weight="bold" text-anchor="middle" fill="#000" >D+Q Concentration</text>
<text class="b" transform="translate(412.1 232.95) rotate(-90)" font-size="7.35" font-weight="bold" text-anchor="middle">Normalized Cell Survival (%)</text>
<polyline points="445,206 445,200.9 464.1,200.9 464.1,219.9" fill="none" stroke="#000" stroke-width="1.0"/>
<text x="455.1" y="200" font-size="11" font-weight="bold" text-anchor="middle" fill="#000" letter-spacing="1.1">***</text>
<polyline points="495.55,219 495.55,200.9 514.65,200.9 514.65,226.2" fill="none" stroke="#000" stroke-width="1.0"/>
<text x="505.1" y="195.7" font-size="7.4" font-weight="normal" text-anchor="middle" fill="#000" >ns</text>
<text x="560.7" y="175.3" font-size="21.5" font-weight="normal" text-anchor="start" fill="#000" >G</text>
<text class="b" x="613.3" y="177" font-size="8.6" font-weight="bold" text-anchor="middle" fill="#000" >Neurons</text>
<line x1="566.6" y1="234.5" x2="662.5" y2="234.5" stroke="#222" stroke-width="1" stroke-dasharray="1 1.7"/>
<rect x="572.4" y="214.9" width="11.5" height="58.3" fill="#707070" stroke="#000" stroke-width="1.2" />
<line x1="578.15" y1="203.06" x2="578.15" y2="225.54" stroke="#222" stroke-width="0.7" />
<line x1="574.59" y1="203.06" x2="581.71" y2="203.06" stroke="#222" stroke-width="0.7" />
<line x1="574.59" y1="225.54" x2="581.71" y2="225.54" stroke="#222" stroke-width="0.7" />
<circle cx="578.15" cy="202.67" r="1.8" fill="#000"/>
<circle cx="578.15" cy="215.85" r="1.8" fill="#000"/>
<circle cx="578.15" cy="224.76" r="1.8" fill="#000"/>
<rect x="591.5" y="220.32" width="11.5" height="52.87" fill="#ff0000" stroke="#000" stroke-width="1.2" />
<line x1="597.25" y1="211.2" x2="597.25" y2="228.25" stroke="#222" stroke-width="0.7" />
<line x1="593.69" y1="211.2" x2="600.81" y2="211.2" stroke="#222" stroke-width="0.7" />
<line x1="593.69" y1="228.25" x2="600.81" y2="228.25" stroke="#222" stroke-width="0.7" />
<circle cx="592.95" cy="215.07" r="1.8" fill="#000"/>
<circle cx="601.45" cy="215.07" r="1.8" fill="#000"/>
<circle cx="597.05" cy="228.25" r="1.8" fill="#000"/>
<rect x="623.15" y="224.97" width="11.5" height="48.22" fill="#707070" stroke="#000" stroke-width="1.2" />
<line x1="628.9" y1="211.59" x2="628.9" y2="237.16" stroke="#222" stroke-width="0.7" />
<line x1="625.34" y1="211.59" x2="632.46" y2="211.59" stroke="#222" stroke-width="0.7" />
<line x1="625.34" y1="237.16" x2="632.46" y2="237.16" stroke="#222" stroke-width="0.7" />
<circle cx="629.2" cy="210.81" r="1.8" fill="#000"/>
<circle cx="628.9" cy="227.47" r="1.8" fill="#000"/>
<circle cx="628.9" cy="232.9" r="1.8" fill="#000"/>
<rect x="642.25" y="225.75" width="11.5" height="47.45" fill="#ff0000" stroke="#000" stroke-width="1.2" />
<line x1="648" y1="224.22" x2="648" y2="226.08" stroke="#222" stroke-width="0.7" />
<line x1="644.44" y1="224.22" x2="651.56" y2="224.22" stroke="#222" stroke-width="0.7" />
<line x1="644.44" y1="226.08" x2="651.56" y2="226.08" stroke="#222" stroke-width="0.7" />
<circle cx="643.8" cy="225.54" r="1.8" fill="#000"/>
<circle cx="648" cy="223.99" r="1.8" fill="#000"/>
<circle cx="652.2" cy="224.92" r="1.8" fill="#000"/>
<line x1="565.4" y1="195.2" x2="565.4" y2="273.75" stroke="#000" stroke-width="1.1" />
<line x1="564.85" y1="273.2" x2="660.5" y2="273.2" stroke="#000" stroke-width="1.2" />
<line x1="561.5" y1="273.2" x2="565.4" y2="273.2" stroke="#000" stroke-width="1.05" />
<text class="b" x="561.1" y="275.55" font-size="6.55" font-weight="bold" text-anchor="end" fill="#000" >0</text>
<line x1="561.5" y1="257.7" x2="565.4" y2="257.7" stroke="#000" stroke-width="1.05" />
<text class="b" x="561.1" y="260.05" font-size="6.55" font-weight="bold" text-anchor="end" fill="#000" >20</text>
<line x1="561.5" y1="242.2" x2="565.4" y2="242.2" stroke="#000" stroke-width="1.05" />
<text class="b" x="561.1" y="244.55" font-size="6.55" font-weight="bold" text-anchor="end" fill="#000" >40</text>
<line x1="561.5" y1="226.7" x2="565.4" y2="226.7" stroke="#000" stroke-width="1.05" />
<text class="b" x="561.1" y="229.05" font-size="6.55" font-weight="bold" text-anchor="end" fill="#000" >60</text>
<line x1="561.5" y1="211.2" x2="565.4" y2="211.2" stroke="#000" stroke-width="1.05" />
<text class="b" x="561.1" y="213.55" font-size="6.55" font-weight="bold" text-anchor="end" fill="#000" >80</text>
<line x1="561.5" y1="195.7" x2="565.4" y2="195.7" stroke="#000" stroke-width="1.05" />
<text class="b" x="561.1" y="198.05" font-size="6.55" font-weight="bold" text-anchor="end" fill="#000" >100</text>
<line x1="587.7" y1="273.2" x2="587.7" y2="277.2" stroke="#000" stroke-width="1.15" />
<line x1="638.45" y1="273.2" x2="638.45" y2="277.2" stroke="#000" stroke-width="1.15" />
<text class="b" x="587.7" y="283.8" font-size="6.65" font-weight="bold" text-anchor="middle" fill="#000" >50 nM + 10 µM</text>
<text class="b" x="638.45" y="283.8" font-size="6.65" font-weight="bold" text-anchor="middle" fill="#000" >100 nM + 20 µM</text>
<text class="b" x="613" y="295" font-size="7.35" font-weight="bold" text-anchor="middle" fill="#000" >D + Q concentration</text>
<text class="b" transform="translate(545.9 234.45) rotate(-90)" font-size="7.35" font-weight="bold" text-anchor="middle">Normalized Cell Survival (%)</text>
<polyline points="578.15,197.3 578.15,192.2 597.25,192.2 597.25,206.5" fill="none" stroke="#000" stroke-width="1.0"/>
<text x="587.7" y="187.9" font-size="7.4" font-weight="normal" text-anchor="middle" fill="#000" >ns</text>
<polyline points="628.9,205.5 628.9,192.2 648,192.2 648,218.9" fill="none" stroke="#000" stroke-width="1.0"/>
<text x="638.45" y="187.9" font-size="7.4" font-weight="normal" text-anchor="middle" fill="#000" >ns</text>
<text x="-0.7" y="307.8" font-size="21.5" font-weight="normal" text-anchor="start" fill="#000" >H</text>
<text class="b" x="87.7" y="318.1" font-size="8.6" font-weight="bold" text-anchor="middle" fill="#000" >Astrocytes</text>
<line x1="41.2" y1="378.5" x2="136.9" y2="378.5" stroke="#222" stroke-width="1" stroke-dasharray="1 1.7"/>
<rect x="44.65" y="356.75" width="7.3" height="47.25" fill="#707070" stroke="#000" stroke-width="1.2" />
<line x1="48.3" y1="354.88" x2="48.3" y2="357.43" stroke="#222" stroke-width="0.7" />
<line x1="45.92" y1="354.88" x2="50.68" y2="354.88" stroke="#222" stroke-width="0.7" />
<line x1="45.92" y1="357.43" x2="50.68" y2="357.43" stroke="#222" stroke-width="0.7" />
<circle cx="45.8" cy="354.63" r="1.5" fill="#000"/>
<circle cx="48.3" cy="357.17" r="1.5" fill="#000"/>
<circle cx="50.8" cy="356.41" r="1.5" fill="#000"/>
<rect x="57.15" y="385.77" width="7.3" height="18.23" fill="#ff0000" stroke="#000" stroke-width="1.2" />
<line x1="60.8" y1="377.02" x2="60.8" y2="393.31" stroke="#222" stroke-width="0.7" />
<line x1="58.42" y1="377.02" x2="63.18" y2="377.02" stroke="#222" stroke-width="0.7" />
<line x1="58.42" y1="393.31" x2="63.18" y2="393.31" stroke="#222" stroke-width="0.7" />
<circle cx="60.8" cy="376" r="1.5" fill="#000"/>
<circle cx="60.8" cy="387.71" r="1.5" fill="#000"/>
<circle cx="60.8" cy="392.29" r="1.5" fill="#000"/>
<rect x="77.8" y="357.26" width="7.3" height="46.74" fill="#707070" stroke="#000" stroke-width="1.2" />
<line x1="81.45" y1="355.9" x2="81.45" y2="357.43" stroke="#222" stroke-width="0.7" />
<line x1="79.07" y1="355.9" x2="83.83" y2="355.9" stroke="#222" stroke-width="0.7" />
<line x1="79.07" y1="357.43" x2="83.83" y2="357.43" stroke="#222" stroke-width="0.7" />
<circle cx="79.05" cy="357.17" r="1.5" fill="#000"/>
<circle cx="81.45" cy="355.9" r="1.5" fill="#000"/>
<circle cx="83.85" cy="356.66" r="1.5" fill="#000"/>
<rect x="90.3" y="393.91" width="7.3" height="10.09" fill="#ff0000" stroke="#000" stroke-width="1.2" />
<line x1="93.95" y1="389.75" x2="93.95" y2="396.87" stroke="#222" stroke-width="0.7" />
<line x1="91.57" y1="389.75" x2="96.33" y2="389.75" stroke="#222" stroke-width="0.7" />
<line x1="91.57" y1="396.87" x2="96.33" y2="396.87" stroke="#222" stroke-width="0.7" />
<circle cx="93.95" cy="388.98" r="1.5" fill="#000"/>
<circle cx="93.45" cy="394.33" r="1.5" fill="#000"/>
<circle cx="94.75" cy="396.37" r="1.5" fill="#000"/>
<rect x="111.05" y="402.06" width="7.3" height="1.95" fill="#707070" stroke="#000" stroke-width="1.2" />
<line x1="114.7" y1="400.44" x2="114.7" y2="402.47" stroke="#222" stroke-width="0.7" />
<line x1="112.32" y1="400.44" x2="117.08" y2="400.44" stroke="#222" stroke-width="0.7" />
<line x1="112.32" y1="402.47" x2="117.08" y2="402.47" stroke="#222" stroke-width="0.7" />
<circle cx="112.3" cy="401.96" r="1.5" fill="#000"/>
<circle cx="114.7" cy="400.44" r="1.5" fill="#000"/>
<circle cx="117.1" cy="401.71" r="1.5" fill="#000"/>
<rect x="123.55" y="398.49" width="7.3" height="5.51" fill="#ff0000" stroke="#000" stroke-width="1.2" />
<line x1="127.2" y1="396.62" x2="127.2" y2="399.16" stroke="#222" stroke-width="0.7" />
<line x1="124.82" y1="396.62" x2="129.58" y2="396.62" stroke="#222" stroke-width="0.7" />
<line x1="124.82" y1="399.16" x2="129.58" y2="399.16" stroke="#222" stroke-width="0.7" />
<circle cx="124.8" cy="397.13" r="1.5" fill="#000"/>
<circle cx="127.2" cy="398.91" r="1.5" fill="#000"/>
<circle cx="129.6" cy="397.89" r="1.5" fill="#000"/>
<line x1="40" y1="327.15" x2="40" y2="404.55" stroke="#000" stroke-width="1.1" />
<line x1="39.45" y1="404" x2="134.9" y2="404" stroke="#000" stroke-width="1.2" />
<line x1="36.1" y1="404" x2="40" y2="404" stroke="#000" stroke-width="1.05" />
<text class="b" x="35.7" y="406.35" font-size="6.55" font-weight="bold" text-anchor="end" fill="#000" >0</text>
<line x1="36.1" y1="378.55" x2="40" y2="378.55" stroke="#000" stroke-width="1.05" />
<text class="b" x="35.7" y="380.9" font-size="6.55" font-weight="bold" text-anchor="end" fill="#000" >50</text>
<line x1="36.1" y1="353.1" x2="40" y2="353.1" stroke="#000" stroke-width="1.05" />
<text class="b" x="35.7" y="355.45" font-size="6.55" font-weight="bold" text-anchor="end" fill="#000" >100</text>
<line x1="36.1" y1="327.65" x2="40" y2="327.65" stroke="#000" stroke-width="1.05" />
<text class="b" x="35.7" y="330" font-size="6.55" font-weight="bold" text-anchor="end" fill="#000" >150</text>
<line x1="54.55" y1="404" x2="54.55" y2="408" stroke="#000" stroke-width="1.15" />
<line x1="87.7" y1="404" x2="87.7" y2="408" stroke="#000" stroke-width="1.15" />
<line x1="120.95" y1="404" x2="120.95" y2="408" stroke="#000" stroke-width="1.15" />
<text class="b" x="54.55" y="414.9" font-size="6.65" font-weight="bold" text-anchor="middle" fill="#000" >1 µM</text>
<text class="b" x="87.7" y="414.9" font-size="6.65" font-weight="bold" text-anchor="middle" fill="#000" >10 µM</text>
<text class="b" x="120.95" y="414.9" font-size="6.65" font-weight="bold" text-anchor="middle" fill="#000" >20 µM</text>
<text class="b" x="87.4" y="426" font-size="7.35" font-weight="bold" text-anchor="middle" fill="#000" >Navitoclax Concentration</text>
<text class="b" transform="translate(19.9 365.82) rotate(-90)" font-size="7.35" font-weight="bold" text-anchor="middle">Normalized Cell Survival (%)</text>
<polyline points="48.3,348.6 48.3,344.5 60.8,344.5 60.8,370.6" fill="none" stroke="#000" stroke-width="1.0"/>
<text x="55.1" y="343.8" font-size="11" font-weight="bold" text-anchor="middle" fill="#000" letter-spacing="1.1">***</text>
<polyline points="81.45,351.3 81.45,344.5 93.95,344.5 93.95,383.9" fill="none" stroke="#000" stroke-width="1.0"/>
<text x="88.25" y="343.8" font-size="11" font-weight="bold" text-anchor="middle" fill="#000" letter-spacing="1.1">***</text>
<polyline points="114.7,397.8 114.7,344.5 127.2,344.5 127.2,394.2" fill="none" stroke="#000" stroke-width="1.0"/>
<text x="120.95" y="339.9" font-size="7.4" font-weight="normal" text-anchor="middle" fill="#000" >ns</text>
<text x="153.5" y="307.8" font-size="21.5" font-weight="normal" text-anchor="start" fill="#000" >I</text>
<text class="b" x="219.4" y="316.5" font-size="8.6" font-weight="bold" text-anchor="middle" fill="#000" >Endothelial Cells</text>
<line x1="172.7" y1="366.5" x2="268.2" y2="366.5" stroke="#222" stroke-width="1" stroke-dasharray="1 1.7"/>
<rect x="175.9" y="353.82" width="7.3" height="51.38" fill="#707070" stroke="#000" stroke-width="1.2" />
<line x1="179.55" y1="344.75" x2="179.55" y2="361.69" stroke="#222" stroke-width="0.7" />
<line x1="177.17" y1="344.75" x2="181.93" y2="344.75" stroke="#222" stroke-width="0.7" />
<line x1="177.17" y1="361.69" x2="181.93" y2="361.69" stroke="#222" stroke-width="0.7" />
<circle cx="179.55" cy="343.21" r="1.5" fill="#000"/>
<circle cx="177.75" cy="357.46" r="1.5" fill="#000"/>
<circle cx="181.15" cy="357.46" r="1.5" fill="#000"/>
<rect x="188.4" y="361.53" width="7.3" height="43.67" fill="#ff0000" stroke="#000" stroke-width="1.2" />
<line x1="192.05" y1="354" x2="192.05" y2="367.86" stroke="#222" stroke-width="0.7" />
<line x1="189.67" y1="354" x2="194.43" y2="354" stroke="#222" stroke-width="0.7" />
<line x1="189.67" y1="367.86" x2="194.43" y2="367.86" stroke="#222" stroke-width="0.7" />
<circle cx="192.05" cy="352.84" r="1.5" fill="#000"/>
<circle cx="191.45" cy="364.39" r="1.5" fill="#000"/>
<circle cx="192.85" cy="363.62" r="1.5" fill="#000"/>
<rect x="209.1" y="365.76" width="7.3" height="39.44" fill="#707070" stroke="#000" stroke-width="1.2" />
<line x1="212.75" y1="359" x2="212.75" y2="371.32" stroke="#222" stroke-width="0.7" />
<line x1="210.37" y1="359" x2="215.13" y2="359" stroke="#222" stroke-width="0.7" />
<line x1="210.37" y1="371.32" x2="215.13" y2="371.32" stroke="#222" stroke-width="0.7" />
<circle cx="210.55" cy="359.77" r="1.5" fill="#000"/>
<circle cx="214.95" cy="361.31" r="1.5" fill="#000"/>
<circle cx="212.55" cy="371.32" r="1.5" fill="#000"/>
<rect x="221.6" y="358.6" width="7.3" height="46.6" fill="#ff0000" stroke="#000" stroke-width="1.2" />
<line x1="225.25" y1="353.38" x2="225.25" y2="362.62" stroke="#222" stroke-width="0.7" />
<line x1="222.87" y1="353.38" x2="227.63" y2="353.38" stroke="#222" stroke-width="0.7" />
<line x1="222.87" y1="362.62" x2="227.63" y2="362.62" stroke="#222" stroke-width="0.7" />
<circle cx="225.25" cy="352.84" r="1.5" fill="#000"/>
<circle cx="223.65" cy="358.23" r="1.5" fill="#000"/>
<circle cx="226.25" cy="361.69" r="1.5" fill="#000"/>
<rect x="242.5" y="368.46" width="7.3" height="36.74" fill="#707070" stroke="#000" stroke-width="1.2" />
<line x1="246.15" y1="362.46" x2="246.15" y2="373.25" stroke="#222" stroke-width="0.7" />
<line x1="243.77" y1="362.46" x2="248.53" y2="362.46" stroke="#222" stroke-width="0.7" />
<line x1="243.77" y1="373.25" x2="248.53" y2="373.25" stroke="#222" stroke-width="0.7" />
<circle cx="246.15" cy="361.69" r="1.5" fill="#000"/>
<circle cx="244.95" cy="370.16" r="1.5" fill="#000"/>
<circle cx="247.75" cy="369.01" r="1.5" fill="#000"/>
<rect x="255" y="357.52" width="7.3" height="47.68" fill="#ff0000" stroke="#000" stroke-width="1.2" />
<line x1="258.65" y1="356" x2="258.65" y2="357.84" stroke="#222" stroke-width="0.7" />
<line x1="256.27" y1="356" x2="261.03" y2="356" stroke="#222" stroke-width="0.7" />
<line x1="256.27" y1="357.84" x2="261.03" y2="357.84" stroke="#222" stroke-width="0.7" />
<circle cx="256.45" cy="356.69" r="1.5" fill="#000"/>
<circle cx="258.65" cy="355.53" r="1.5" fill="#000"/>
<circle cx="260.85" cy="356.69" r="1.5" fill="#000"/>
<line x1="171.5" y1="327.7" x2="171.5" y2="405.75" stroke="#000" stroke-width="1.1" />
<line x1="170.95" y1="405.2" x2="266.2" y2="405.2" stroke="#000" stroke-width="1.2" />
<line x1="167.6" y1="405.2" x2="171.5" y2="405.2" stroke="#000" stroke-width="1.05" />
<text class="b" x="167.2" y="407.55" font-size="6.55" font-weight="bold" text-anchor="end" fill="#000" >0</text>
<line x1="167.6" y1="389.8" x2="171.5" y2="389.8" stroke="#000" stroke-width="1.05" />
<text class="b" x="167.2" y="392.15" font-size="6.55" font-weight="bold" text-anchor="end" fill="#000" >20</text>
<line x1="167.6" y1="374.4" x2="171.5" y2="374.4" stroke="#000" stroke-width="1.05" />
<text class="b" x="167.2" y="376.75" font-size="6.55" font-weight="bold" text-anchor="end" fill="#000" >40</text>
<line x1="167.6" y1="359" x2="171.5" y2="359" stroke="#000" stroke-width="1.05" />
<text class="b" x="167.2" y="361.35" font-size="6.55" font-weight="bold" text-anchor="end" fill="#000" >60</text>
<line x1="167.6" y1="343.6" x2="171.5" y2="343.6" stroke="#000" stroke-width="1.05" />
<text class="b" x="167.2" y="345.95" font-size="6.55" font-weight="bold" text-anchor="end" fill="#000" >80</text>
<line x1="167.6" y1="328.2" x2="171.5" y2="328.2" stroke="#000" stroke-width="1.05" />
<text class="b" x="167.2" y="330.55" font-size="6.55" font-weight="bold" text-anchor="end" fill="#000" >100</text>
<line x1="185.8" y1="405.2" x2="185.8" y2="409.2" stroke="#000" stroke-width="1.15" />
<line x1="219" y1="405.2" x2="219" y2="409.2" stroke="#000" stroke-width="1.15" />
<line x1="252.4" y1="405.2" x2="252.4" y2="409.2" stroke="#000" stroke-width="1.15" />
<text class="b" x="185.8" y="416.7" font-size="6.65" font-weight="bold" text-anchor="middle" fill="#000" >1 µM</text>
<text class="b" x="219" y="416.7" font-size="6.65" font-weight="bold" text-anchor="middle" fill="#000" >10 µM</text>
<text class="b" x="252.4" y="416.7" font-size="6.65" font-weight="bold" text-anchor="middle" fill="#000" >20 µM</text>
<text class="b" x="218.9" y="427.8" font-size="7.35" font-weight="bold" text-anchor="middle" fill="#000" >Navitoclax Concentration</text>
<text class="b" transform="translate(151.5 366.7) rotate(-90)" font-size="7.35" font-weight="bold" text-anchor="middle">Normalized Cell Survival (%)</text>
<polyline points="179.55,339 179.55,333.3 192.05,333.3 192.05,348.2" fill="none" stroke="#000" stroke-width="1.0"/>
<text x="185.8" y="329.4" font-size="7.4" font-weight="normal" text-anchor="middle" fill="#000" >ns</text>
<polyline points="212.75,356.4 212.75,333.3 225.25,333.3 225.25,349.3" fill="none" stroke="#000" stroke-width="1.0"/>
<text x="219" y="329.4" font-size="7.4" font-weight="normal" text-anchor="middle" fill="#000" >ns</text>
<polyline points="246.15,357.4 246.15,333.3 258.65,333.3 258.65,352.3" fill="none" stroke="#000" stroke-width="1.0"/>
<text x="252.4" y="329.4" font-size="7.4" font-weight="normal" text-anchor="middle" fill="#000" >ns</text>
<text x="293" y="308.1" font-size="21.5" font-weight="normal" text-anchor="start" fill="#000" >J</text>
<text class="b" x="349.3" y="314.7" font-size="8.6" font-weight="bold" text-anchor="middle" fill="#000" >Microglia</text>
<line x1="302.7" y1="381.5" x2="398.7" y2="381.5" stroke="#222" stroke-width="1" stroke-dasharray="1 1.7"/>
<rect x="306.25" y="351.59" width="7.3" height="55.61" fill="#707070" stroke="#000" stroke-width="1.2" />
<line x1="309.9" y1="346.9" x2="309.9" y2="355.08" stroke="#222" stroke-width="0.7" />
<line x1="307.52" y1="346.9" x2="312.28" y2="346.9" stroke="#222" stroke-width="0.7" />
<line x1="307.52" y1="355.08" x2="312.28" y2="355.08" stroke="#222" stroke-width="0.7" />
<circle cx="307.5" cy="347.41" r="1.5" fill="#000"/>
<circle cx="311.9" cy="347.92" r="1.5" fill="#000"/>
<circle cx="309.9" cy="355.08" r="1.5" fill="#000"/>
<rect x="318.75" y="366.92" width="7.3" height="40.28" fill="#ff0000" stroke="#000" stroke-width="1.2" />
<line x1="322.4" y1="356.1" x2="322.4" y2="376.54" stroke="#222" stroke-width="0.7" />
<line x1="320.02" y1="356.1" x2="324.78" y2="356.1" stroke="#222" stroke-width="0.7" />
<line x1="320.02" y1="376.54" x2="324.78" y2="376.54" stroke="#222" stroke-width="0.7" />
<circle cx="319.8" cy="358.65" r="1.5" fill="#000"/>
<circle cx="325.2" cy="360.7" r="1.5" fill="#000"/>
<circle cx="322.6" cy="377.05" r="1.5" fill="#000"/>
<rect x="339.1" y="350.06" width="7.3" height="57.14" fill="#707070" stroke="#000" stroke-width="1.2" />
<line x1="342.75" y1="346.39" x2="342.75" y2="352.52" stroke="#222" stroke-width="0.7" />
<line x1="340.37" y1="346.39" x2="345.13" y2="346.39" stroke="#222" stroke-width="0.7" />
<line x1="340.37" y1="352.52" x2="345.13" y2="352.52" stroke="#222" stroke-width="0.7" />
<circle cx="340.35" cy="346.9" r="1.5" fill="#000"/>
<circle cx="345.15" cy="348.95" r="1.5" fill="#000"/>
<circle cx="342.75" cy="352.52" r="1.5" fill="#000"/>
<rect x="351.6" y="371.52" width="7.3" height="35.68" fill="#ff0000" stroke="#000" stroke-width="1.2" />
<line x1="355.25" y1="367.34" x2="355.25" y2="374.5" stroke="#222" stroke-width="0.7" />
<line x1="352.87" y1="367.34" x2="357.63" y2="367.34" stroke="#222" stroke-width="0.7" />
<line x1="352.87" y1="374.5" x2="357.63" y2="374.5" stroke="#222" stroke-width="0.7" />
<circle cx="355.25" cy="366.58" r="1.5" fill="#000"/>
<circle cx="353.65" cy="370.41" r="1.5" fill="#000"/>
<circle cx="355.65" cy="375.01" r="1.5" fill="#000"/>
<rect x="371.95" y="347.5" width="7.3" height="59.7" fill="#707070" stroke="#000" stroke-width="1.2" />
<line x1="375.6" y1="345.88" x2="375.6" y2="347.92" stroke="#222" stroke-width="0.7" />
<line x1="373.22" y1="345.88" x2="377.98" y2="345.88" stroke="#222" stroke-width="0.7" />
<line x1="373.22" y1="347.92" x2="377.98" y2="347.92" stroke="#222" stroke-width="0.7" />
<circle cx="373.2" cy="346.39" r="1.5" fill="#000"/>
<circle cx="375.6" cy="347.41" r="1.5" fill="#000"/>
<circle cx="378" cy="346.65" r="1.5" fill="#000"/>
<rect x="384.45" y="373.05" width="7.3" height="34.15" fill="#ff0000" stroke="#000" stroke-width="1.2" />
<line x1="388.1" y1="371.43" x2="388.1" y2="373.47" stroke="#222" stroke-width="0.7" />
<line x1="385.72" y1="371.43" x2="390.48" y2="371.43" stroke="#222" stroke-width="0.7" />
<line x1="385.72" y1="373.47" x2="390.48" y2="373.47" stroke="#222" stroke-width="0.7" />
<circle cx="385.7" cy="371.94" r="1.5" fill="#000"/>
<circle cx="388.1" cy="373.47" r="1.5" fill="#000"/>
<circle cx="390.5" cy="372.45" r="1.5" fill="#000"/>
<line x1="301.5" y1="330.05" x2="301.5" y2="407.75" stroke="#000" stroke-width="1.1" />
<line x1="300.95" y1="407.2" x2="396.7" y2="407.2" stroke="#000" stroke-width="1.2" />
<line x1="297.6" y1="407.2" x2="301.5" y2="407.2" stroke="#000" stroke-width="1.05" />
<text class="b" x="297.2" y="409.55" font-size="6.55" font-weight="bold" text-anchor="end" fill="#000" >0</text>
<line x1="297.6" y1="381.65" x2="301.5" y2="381.65" stroke="#000" stroke-width="1.05" />
<text class="b" x="297.2" y="384" font-size="6.55" font-weight="bold" text-anchor="end" fill="#000" >50</text>
<line x1="297.6" y1="356.1" x2="301.5" y2="356.1" stroke="#000" stroke-width="1.05" />
<text class="b" x="297.2" y="358.45" font-size="6.55" font-weight="bold" text-anchor="end" fill="#000" >100</text>
<line x1="297.6" y1="330.55" x2="301.5" y2="330.55" stroke="#000" stroke-width="1.05" />
<text class="b" x="297.2" y="332.9" font-size="6.55" font-weight="bold" text-anchor="end" fill="#000" >150</text>
<line x1="316.15" y1="407.2" x2="316.15" y2="411.2" stroke="#000" stroke-width="1.15" />
<line x1="349" y1="407.2" x2="349" y2="411.2" stroke="#000" stroke-width="1.15" />
<line x1="381.85" y1="407.2" x2="381.85" y2="411.2" stroke="#000" stroke-width="1.15" />
<text class="b" x="316.15" y="418.1" font-size="6.65" font-weight="bold" text-anchor="middle" fill="#000" >1 µM</text>
<text class="b" x="349" y="418.1" font-size="6.65" font-weight="bold" text-anchor="middle" fill="#000" >10 µM</text>
<text class="b" x="381.85" y="418.1" font-size="6.65" font-weight="bold" text-anchor="middle" fill="#000" >20 µM</text>
<text class="b" x="349" y="429.2" font-size="7.35" font-weight="bold" text-anchor="middle" fill="#000" >Navitoclax Concentration</text>
<text class="b" transform="translate(281.8 368.88) rotate(-90)" font-size="7.35" font-weight="bold" text-anchor="middle">Normalized Cell Survival (%)</text>
<polyline points="309.9,341.1 309.9,335.4 322.4,335.4 322.4,349.9" fill="none" stroke="#000" stroke-width="1.0"/>
<text x="316.7" y="334.5" font-size="11" font-weight="bold" text-anchor="middle" fill="#000" letter-spacing="1.1">*</text>
<polyline points="342.75,341.1 342.75,335.4 355.25,335.4 355.25,360.5" fill="none" stroke="#000" stroke-width="1.0"/>
<text x="349.55" y="334.5" font-size="11" font-weight="bold" text-anchor="middle" fill="#000" letter-spacing="1.1">***</text>
<polyline points="375.6,340.7 375.6,335.4 388.1,335.4 388.1,367.7" fill="none" stroke="#000" stroke-width="1.0"/>
<text x="382.4" y="334.5" font-size="11" font-weight="bold" text-anchor="middle" fill="#000" letter-spacing="1.1">***</text>
<text x="415.8" y="308.4" font-size="21.5" font-weight="normal" text-anchor="start" fill="#000" >K</text>
<text class="b" x="480.3" y="313" font-size="8.6" font-weight="bold" text-anchor="middle" fill="#000" >Oligodendrocytes</text>
<line x1="433.5" y1="383" x2="529.7" y2="383" stroke="#555" stroke-width="1" stroke-dasharray="1 1.7"/>
<rect x="436.85" y="347.35" width="7.3" height="61.35" fill="#707070" stroke="#000" stroke-width="1.2" />
<line x1="440.5" y1="345.98" x2="440.5" y2="347.52" stroke="#222" stroke-width="0.7" />
<line x1="438.12" y1="345.98" x2="442.88" y2="345.98" stroke="#222" stroke-width="0.7" />
<line x1="438.12" y1="347.52" x2="442.88" y2="347.52" stroke="#222" stroke-width="0.7" />
<circle cx="438.1" cy="347" r="1.8" fill="#000"/>
<circle cx="440.5" cy="345.98" r="1.8" fill="#000"/>
<circle cx="442.9" cy="347" r="1.8" fill="#000"/>
<rect x="449.35" y="369.36" width="7.3" height="39.34" fill="#ff0000" stroke="#000" stroke-width="1.2" />
<line x1="453" y1="367.74" x2="453" y2="369.79" stroke="#222" stroke-width="0.7" />
<line x1="450.62" y1="367.74" x2="455.38" y2="367.74" stroke="#222" stroke-width="0.7" />
<line x1="450.62" y1="369.79" x2="455.38" y2="369.79" stroke="#222" stroke-width="0.7" />
<circle cx="450.6" cy="369.28" r="1.8" fill="#000"/>
<circle cx="453.5" cy="367.23" r="1.8" fill="#000"/>
<circle cx="455.6" cy="368.25" r="1.8" fill="#000"/>
<rect x="470.1" y="344.79" width="7.3" height="63.91" fill="#707070" stroke="#000" stroke-width="1.2" />
<line x1="473.75" y1="340.09" x2="473.75" y2="348.28" stroke="#222" stroke-width="0.7" />
<line x1="471.37" y1="340.09" x2="476.13" y2="340.09" stroke="#222" stroke-width="0.7" />
<line x1="471.37" y1="348.28" x2="476.13" y2="348.28" stroke="#222" stroke-width="0.7" />
<circle cx="473.75" cy="339.58" r="1.8" fill="#000"/>
<circle cx="476.35" cy="345.21" r="1.8" fill="#000"/>
<circle cx="471.75" cy="347.26" r="1.8" fill="#000"/>
<rect x="482.6" y="373.2" width="7.3" height="35.5" fill="#ff0000" stroke="#000" stroke-width="1.2" />
<line x1="486.25" y1="366.46" x2="486.25" y2="378.75" stroke="#222" stroke-width="0.7" />
<line x1="483.87" y1="366.46" x2="488.63" y2="366.46" stroke="#222" stroke-width="0.7" />
<line x1="483.87" y1="378.75" x2="488.63" y2="378.75" stroke="#222" stroke-width="0.7" />
<circle cx="486.25" cy="365.18" r="1.8" fill="#000"/>
<circle cx="486.45" cy="370.56" r="1.8" fill="#000"/>
<circle cx="486.25" cy="381.56" r="1.8" fill="#000"/>
<rect x="502.9" y="345.81" width="7.3" height="62.89" fill="#707070" stroke="#000" stroke-width="1.2" />
<line x1="506.55" y1="342.65" x2="506.55" y2="347.77" stroke="#222" stroke-width="0.7" />
<line x1="504.17" y1="342.65" x2="508.93" y2="342.65" stroke="#222" stroke-width="0.7" />
<line x1="504.17" y1="347.77" x2="508.93" y2="347.77" stroke="#222" stroke-width="0.7" />
<circle cx="503.95" cy="343.16" r="1.8" fill="#000"/>
<circle cx="509.15" cy="344.7" r="1.8" fill="#000"/>
<circle cx="506.55" cy="348.8" r="1.8" fill="#000"/>
<rect x="515.4" y="373.2" width="7.3" height="35.5" fill="#ff0000" stroke="#000" stroke-width="1.2" />
<line x1="519.05" y1="367.48" x2="519.05" y2="377.72" stroke="#222" stroke-width="0.7" />
<line x1="516.67" y1="367.48" x2="521.43" y2="367.48" stroke="#222" stroke-width="0.7" />
<line x1="516.67" y1="377.72" x2="521.43" y2="377.72" stroke="#222" stroke-width="0.7" />
<circle cx="516.85" cy="366.72" r="1.8" fill="#000"/>
<circle cx="521.45" cy="369.79" r="1.8" fill="#000"/>
<circle cx="519.05" cy="379.52" r="1.8" fill="#000"/>
<line x1="432.3" y1="331.4" x2="432.3" y2="409.25" stroke="#000" stroke-width="1.1" />
<line x1="431.75" y1="408.7" x2="527.7" y2="408.7" stroke="#000" stroke-width="1.2" />
<line x1="428.4" y1="408.7" x2="432.3" y2="408.7" stroke="#000" stroke-width="1.05" />
<text class="b" x="428" y="411.05" font-size="6.55" font-weight="bold" text-anchor="end" fill="#000" >0</text>
<line x1="428.4" y1="383.1" x2="432.3" y2="383.1" stroke="#000" stroke-width="1.05" />
<text class="b" x="428" y="385.45" font-size="6.55" font-weight="bold" text-anchor="end" fill="#000" >50</text>
<line x1="428.4" y1="357.5" x2="432.3" y2="357.5" stroke="#000" stroke-width="1.05" />
<text class="b" x="428" y="359.85" font-size="6.55" font-weight="bold" text-anchor="end" fill="#000" >100</text>
<line x1="428.4" y1="331.9" x2="432.3" y2="331.9" stroke="#000" stroke-width="1.05" />
<text class="b" x="428" y="334.25" font-size="6.55" font-weight="bold" text-anchor="end" fill="#000" >150</text>
<line x1="446.75" y1="408.7" x2="446.75" y2="412.7" stroke="#000" stroke-width="1.15" />
<line x1="480" y1="408.7" x2="480" y2="412.7" stroke="#000" stroke-width="1.15" />
<line x1="512.8" y1="408.7" x2="512.8" y2="412.7" stroke="#000" stroke-width="1.15" />
<text class="b" x="446.75" y="419.3" font-size="6.65" font-weight="bold" text-anchor="middle" fill="#000" >1 µM</text>
<text class="b" x="480" y="419.3" font-size="6.65" font-weight="bold" text-anchor="middle" fill="#000" >10 µM</text>
<text class="b" x="512.8" y="419.3" font-size="6.65" font-weight="bold" text-anchor="middle" fill="#000" >20 µM</text>
<text class="b" x="479.8" y="430.7" font-size="7.35" font-weight="bold" text-anchor="middle" fill="#000" >Navitoclax Concentration</text>
<text class="b" transform="translate(411.8 370.3) rotate(-90)" font-size="7.35" font-weight="bold" text-anchor="middle">Normalized Cell Survival (%)</text>
<polyline points="440.5,339.7 440.5,329.2 453,329.2 453,364.6" fill="none" stroke="#000" stroke-width="1.0"/>
<text x="447.3" y="329.4" font-size="11" font-weight="bold" text-anchor="middle" fill="#000" letter-spacing="1.1">***</text>
<polyline points="473.75,336 473.75,329.2 486.25,329.2 486.25,360.5" fill="none" stroke="#000" stroke-width="1.0"/>
<text x="480.55" y="329.4" font-size="11" font-weight="bold" text-anchor="middle" fill="#000" letter-spacing="1.1">***</text>
<polyline points="506.55,338.4 506.55,329.2 519.05,329.2 519.05,362.6" fill="none" stroke="#000" stroke-width="1.0"/>
<text x="513.35" y="329.4" font-size="11" font-weight="bold" text-anchor="middle" fill="#000" letter-spacing="1.1">***</text>
<text x="562" y="308" font-size="21.5" font-weight="normal" text-anchor="start" fill="#000" >L</text>
<text class="b" x="613" y="314.5" font-size="8.6" font-weight="bold" text-anchor="middle" fill="#000" >Neurons</text>
<line x1="566.1" y1="381.5" x2="662.5" y2="381.5" stroke="#222" stroke-width="1" stroke-dasharray="1 1.7"/>
<rect x="569.6" y="362.94" width="7.3" height="44.46" fill="#707070" stroke="#000" stroke-width="1.2" />
<line x1="573.25" y1="355.18" x2="573.25" y2="369.51" stroke="#222" stroke-width="0.7" />
<line x1="570.87" y1="355.18" x2="575.63" y2="355.18" stroke="#222" stroke-width="0.7" />
<line x1="570.87" y1="369.51" x2="575.63" y2="369.51" stroke="#222" stroke-width="0.7" />
<circle cx="570.45" cy="356.71" r="1.5" fill="#000"/>
<circle cx="575.85" cy="358.25" r="1.5" fill="#000"/>
<circle cx="573.25" cy="369" r="1.5" fill="#000"/>
<rect x="582.1" y="359.62" width="7.3" height="47.78" fill="#ff0000" stroke="#000" stroke-width="1.2" />
<line x1="585.75" y1="348.78" x2="585.75" y2="369.26" stroke="#222" stroke-width="0.7" />
<line x1="583.37" y1="348.78" x2="588.13" y2="348.78" stroke="#222" stroke-width="0.7" />
<line x1="583.37" y1="369.26" x2="588.13" y2="369.26" stroke="#222" stroke-width="0.7" />
<circle cx="585.75" cy="348.01" r="1.5" fill="#000"/>
<circle cx="585.75" cy="358.76" r="1.5" fill="#000"/>
<circle cx="585.75" cy="370.02" r="1.5" fill="#000"/>
<rect x="602.7" y="375.49" width="7.3" height="31.91" fill="#707070" stroke="#000" stroke-width="1.2" />
<line x1="606.35" y1="369.77" x2="606.35" y2="380.01" stroke="#222" stroke-width="0.7" />
<line x1="603.97" y1="369.77" x2="608.73" y2="369.77" stroke="#222" stroke-width="0.7" />
<line x1="603.97" y1="380.01" x2="608.73" y2="380.01" stroke="#222" stroke-width="0.7" />
<circle cx="603.75" cy="371.05" r="1.5" fill="#000"/>
<circle cx="608.75" cy="372.58" r="1.5" fill="#000"/>
<circle cx="606.35" cy="379.24" r="1.5" fill="#000"/>
<rect x="615.2" y="369.86" width="7.3" height="37.54" fill="#ff0000" stroke="#000" stroke-width="1.2" />
<line x1="618.85" y1="362.09" x2="618.85" y2="376.42" stroke="#222" stroke-width="0.7" />
<line x1="616.47" y1="362.09" x2="621.23" y2="362.09" stroke="#222" stroke-width="0.7" />
<line x1="616.47" y1="376.42" x2="621.23" y2="376.42" stroke="#222" stroke-width="0.7" />
<circle cx="618.85" cy="361.06" r="1.5" fill="#000"/>
<circle cx="617.85" cy="371.05" r="1.5" fill="#000"/>
<circle cx="619.85" cy="375.14" r="1.5" fill="#000"/>
<rect x="635.8" y="392.13" width="7.3" height="15.27" fill="#707070" stroke="#000" stroke-width="1.2" />
<line x1="639.45" y1="382.82" x2="639.45" y2="400.23" stroke="#222" stroke-width="0.7" />
<line x1="637.07" y1="382.82" x2="641.83" y2="382.82" stroke="#222" stroke-width="0.7" />
<line x1="637.07" y1="400.23" x2="641.83" y2="400.23" stroke="#222" stroke-width="0.7" />
<circle cx="639.45" cy="382.82" r="1.5" fill="#000"/>
<circle cx="639.45" cy="390.5" r="1.5" fill="#000"/>
<circle cx="639.45" cy="401.26" r="1.5" fill="#000"/>
<rect x="648.3" y="374.46" width="7.3" height="32.94" fill="#ff0000" stroke="#000" stroke-width="1.2" />
<line x1="651.95" y1="364.65" x2="651.95" y2="383.08" stroke="#222" stroke-width="0.7" />
<line x1="649.57" y1="364.65" x2="654.33" y2="364.65" stroke="#222" stroke-width="0.7" />
<line x1="649.57" y1="383.08" x2="654.33" y2="383.08" stroke="#222" stroke-width="0.7" />
<circle cx="651.95" cy="362.86" r="1.5" fill="#000"/>
<circle cx="649.95" cy="378.73" r="1.5" fill="#000"/>
<circle cx="654.55" cy="379.24" r="1.5" fill="#000"/>
<line x1="564.9" y1="330.1" x2="564.9" y2="407.95" stroke="#000" stroke-width="1.1" />
<line x1="564.35" y1="407.4" x2="660.5" y2="407.4" stroke="#000" stroke-width="1.2" />
<line x1="561" y1="407.4" x2="564.9" y2="407.4" stroke="#000" stroke-width="1.05" />
<text class="b" x="560.6" y="409.75" font-size="6.55" font-weight="bold" text-anchor="end" fill="#000" >0</text>
<line x1="561" y1="381.8" x2="564.9" y2="381.8" stroke="#000" stroke-width="1.05" />
<text class="b" x="560.6" y="384.15" font-size="6.55" font-weight="bold" text-anchor="end" fill="#000" >50</text>
<line x1="561" y1="356.2" x2="564.9" y2="356.2" stroke="#000" stroke-width="1.05" />
<text class="b" x="560.6" y="358.55" font-size="6.55" font-weight="bold" text-anchor="end" fill="#000" >100</text>
<line x1="561" y1="330.6" x2="564.9" y2="330.6" stroke="#000" stroke-width="1.05" />
<text class="b" x="560.6" y="332.95" font-size="6.55" font-weight="bold" text-anchor="end" fill="#000" >150</text>
<line x1="579.5" y1="407.4" x2="579.5" y2="411.4" stroke="#000" stroke-width="1.15" />
<line x1="612.6" y1="407.4" x2="612.6" y2="411.4" stroke="#000" stroke-width="1.15" />
<line x1="645.7" y1="407.4" x2="645.7" y2="411.4" stroke="#000" stroke-width="1.15" />
<text class="b" x="579.5" y="418.4" font-size="6.65" font-weight="bold" text-anchor="middle" fill="#000" >1 µM</text>
<text class="b" x="612.6" y="418.4" font-size="6.65" font-weight="bold" text-anchor="middle" fill="#000" >10 µM</text>
<text class="b" x="645.7" y="418.4" font-size="6.65" font-weight="bold" text-anchor="middle" fill="#000" >20 µM</text>
<text class="b" x="612.7" y="429.7" font-size="7.35" font-weight="bold" text-anchor="middle" fill="#000" >Navitoclax Concentration</text>
<text class="b" transform="translate(545.3 369) rotate(-90)" font-size="7.35" font-weight="bold" text-anchor="middle">Normalized Cell Survival (%)</text>
<polyline points="573.25,349.1 573.25,337.1 585.75,337.1 585.75,342.6" fill="none" stroke="#000" stroke-width="1.0"/>
<text x="579.5" y="332.9" font-size="7.4" font-weight="normal" text-anchor="middle" fill="#000" >ns</text>
<polyline points="606.35,365.5 606.35,337.1 618.85,337.1 618.85,355.7" fill="none" stroke="#000" stroke-width="1.0"/>
<text x="612.6" y="332.9" font-size="7.4" font-weight="normal" text-anchor="middle" fill="#000" >ns</text>
<polyline points="639.45,378.5 639.45,337.1 651.95,337.1 651.95,357.9" fill="none" stroke="#000" stroke-width="1.0"/>
<text x="645.7" y="332.9" font-size="7.4" font-weight="normal" text-anchor="middle" fill="#000" >ns</text>
<rect x="217.4" y="441.4" width="240.8" height="28.4" fill="#fff" stroke="#1a1a1a" stroke-width="1.2" />
<text x="222.8" y="460" font-size="11.4" font-weight="bold" text-anchor="start" fill="#000" >Legend:</text>
<rect x="272.2" y="451.5" width="10.3" height="9.8" fill="#808080" stroke="#111" stroke-width="1.4" />
<text x="286.2" y="460" font-size="11.4" font-weight="bold" text-anchor="start" fill="#000" >DMSO control</text>
<rect x="369.1" y="451.5" width="10" height="9.8" fill="#ff2200" stroke="#2a0400" stroke-width="1.4" />
<text x="382.9" y="460" font-size="11.4" font-weight="bold" text-anchor="start" fill="#000" >100 µM BrdU</text>
</svg></body></html>
